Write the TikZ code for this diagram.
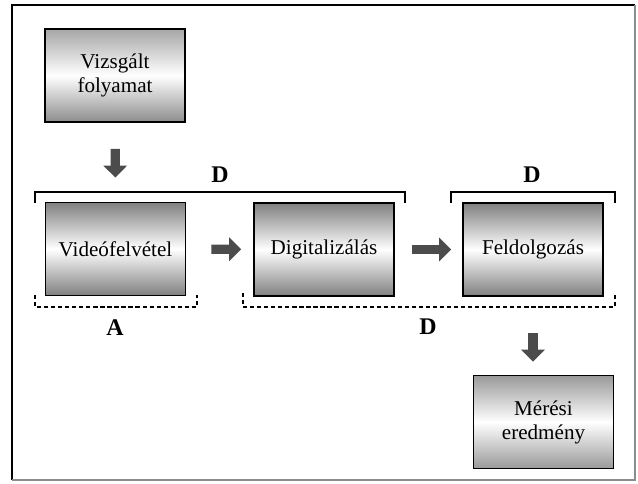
\documentclass[tikz,border=0pt]{standalone}
\usepackage{fontspec}
\setmainfont{Liberation Serif}
\usetikzlibrary{arrows.meta}

\begin{document}
\begin{tikzpicture}[x=0.025cm, y=-0.025cm, thick,
    proc node/.style={rectangle, draw, line width=1.2pt, minimum width=3.5cm, minimum height=2.33cm,
        top color=black!50, bottom color=black!50, middle color=white, align=center,
        font=\fontsize{15}{17}\selectfont},
    mark node/.style={font=\fontsize{17}{19}\selectfont\bfseries},
    flow arrow/.style={line width=6.5pt, draw=black!70, -{Triangle[length=0.3cm, width=0.58cm]}},
    solid bracket/.style={line width=1pt},
    dash bracket/.style={line width=1pt, densely dashed}]
\useasboundingbox (0,0) rectangle (638,483);
% frame
\draw[line width=1.3pt] (12,480) -- (12,5) -- (635,5);
\draw[line width=1pt, black!45] (12,480) -- (635,480) -- (635,5);

% process boxes
\node[proc node, top color=black!35, bottom color=black!45, middle color=white] (vizsgalt) at (115,75.5) {Vizsgált\\folyamat};
\node[proc node] (video) at (115.5,249) {Videófelvétel};
\node[proc node] (digit) at (324,249.5) {Digitalizálás};
\node[proc node] (feldolg) at (533,249.5) {Feldolgozás};
\node[proc node, top color=black!40, bottom color=black!40, middle color=white] (meres) at (543.5,422) {Mérési\\eredmény};

% flow
\draw[flow arrow, shorten <=0.65cm, shorten >=0.6cm] (vizsgalt) -- (video);
\draw[flow arrow, shorten <=0.625cm, shorten >=0.3cm] (video) -- (digit);
\draw[flow arrow, shorten <=0.425cm, shorten >=0.275cm] (digit) -- (feldolg);
\draw[flow arrow, shorten <=0.9cm, shorten >=0.325cm] (feldolg.south) -- (feldolg.south |- meres.north);

% brackets
\draw[solid bracket] (35,203) -- (35,192) -- (405,192) -- (405,203);
\draw[solid bracket] (451,203) -- (451,192) -- (615,192) -- (615,203);
\draw[dash bracket] (35,295) -- (35,307) -- (197,307) -- (197,295);
\draw[dash bracket] (243,293) -- (243,307) -- (615,307) -- (615,293);

\node[mark node] (d top) at (220,175) {D};
\node[mark node] (d right) at (532,175) {D};
\node[mark node] (a low) at (115,328) {A};
\node[mark node] (d low) at (428,327) {D};
\end{tikzpicture}
\end{document}
